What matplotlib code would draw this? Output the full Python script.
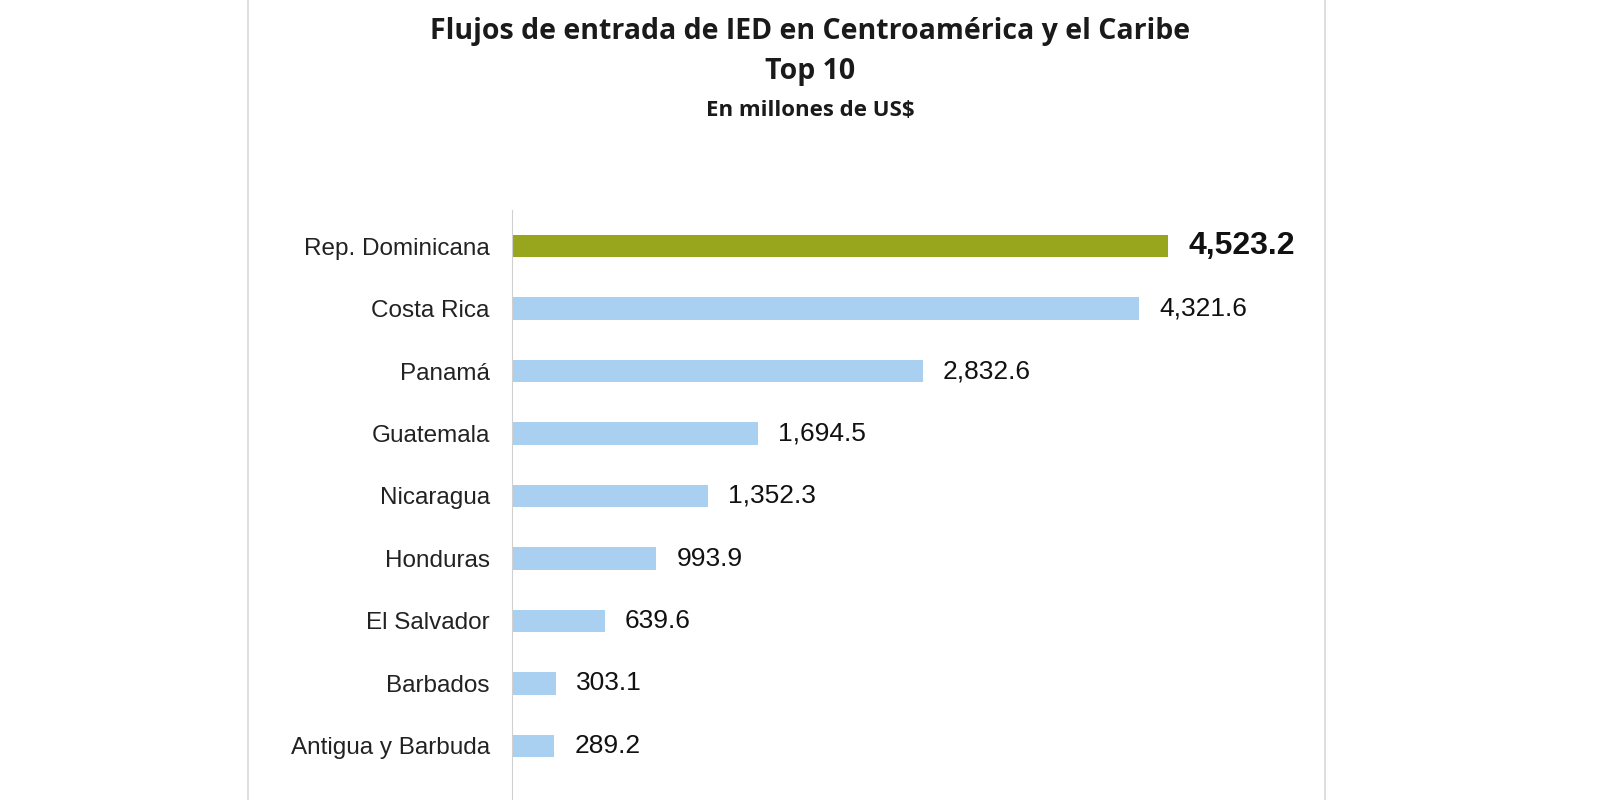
import matplotlib.pyplot as plt
from matplotlib.patches import Rectangle

countries = ["Rep. Dominicana", "Costa Rica", "Panamá", "Guatemala", "Nicaragua",
             "Honduras", "El Salvador", "Barbados", "Antigua y Barbuda"]
values = [4523.2, 4321.6, 2832.6, 1694.5, 1352.3, 993.9, 639.6, 303.1, 289.2]
value_labels = ["4,523.2", "4,321.6", "2,832.6", "1,694.5", "1,352.3",
                "993.9", "639.6", "303.1", "289.2"]

W, H = 1600, 800
fig = plt.figure(figsize=(16, 8), dpi=100)
fig.patch.set_facecolor("white")

# card border
fig.patches.append(Rectangle((248 / W, -0.01), (1325 - 248) / W, 1.02,
                             transform=fig.transFigure, fill=False,
                             edgecolor="#d9d9d9", linewidth=1.2))

ax = fig.add_axes([512 / W, 0, 656 / W, 1 - 210 / H])
pos = list(range(len(countries)))
colors = ["#97a61c"] + ["#a9cff1"] * (len(countries) - 1)
ax.barh(pos, values, height=0.36, color=colors)
ax.set_xlim(0, values[0])
ax.set_ylim(8.864, -0.576)

for i, (v, lab) in enumerate(zip(values, value_labels)):
    if i == 0:
        ax.text(v + 140, i, lab, va="center", ha="left", fontsize=23,
                fontweight="bold", family="Liberation Sans", color="#111111", clip_on=False)
    else:
        ax.text(v + 140, i, lab, va="center", ha="left", fontsize=19,
                family="Liberation Sans", color="#111111", clip_on=False)

ax.set_yticks(pos)
ax.set_yticklabels(countries, fontsize=17.5, family="Liberation Sans", color="#222222")
ax.tick_params(axis="y", length=0, pad=16)
ax.set_xticks([])
for s in ["top", "right", "bottom"]:
    ax.spines[s].set_visible(False)
ax.spines["left"].set_color("#d0d0d0")

fig.text(810 / W, 1 - 31 / H, "Flujos de entrada de IED en Centroamérica y el Caribe",
         ha="center", va="center", fontsize=20.5, fontweight="bold", family="Open Sans", color="#1a1a1a")
fig.text(810 / W, 1 - 72 / H, "Top 10", ha="center", va="center",
         fontsize=20.5, fontweight="bold", family="Open Sans", color="#1a1a1a")
fig.text(810 / W, 1 - 110 / H, "En millones de US$", ha="center", va="center",
         fontsize=16, fontweight="bold", family="Open Sans", color="#1a1a1a")

fig.savefig("out.png", dpi=100)
